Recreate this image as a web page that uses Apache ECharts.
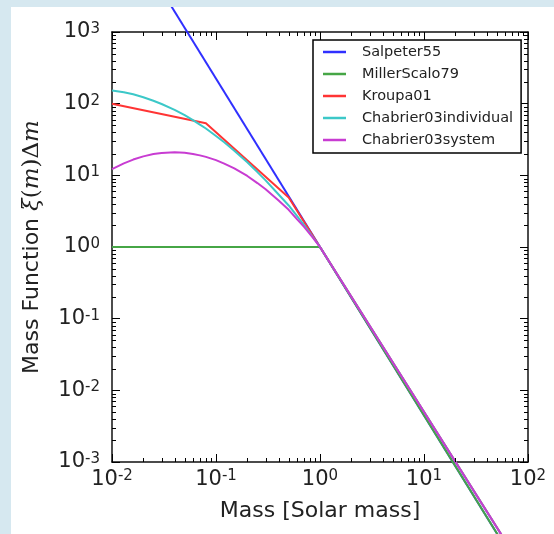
<!DOCTYPE html>
<html>
<head>
<meta charset="utf-8">
<script src="https://cdn.jsdelivr.net/npm/echarts@6/dist/echarts.min.js"></script>
<style>
  html, body { margin: 0; padding: 0; overflow: hidden; width: 100%; height: 100%; background: #d6e8f0; }
  /* white figure panel inside the light blue frame, running off the right/bottom edges */
  #chart { position: absolute; left: 11px; top: 7px; width: 553px; height: 537px; background: #fff; }
</style>
</head>
<body>
<div id="chart"></div>
<script>
// stellar mass (solar masses) and mass function values
const salpeterMass = [0.01, 100];
const salpeterVal = [50100, 0.00002];

const millerScaloMass = [0.01, 1, 100];
const millerScaloVal = [1, 1, 0.00002];

const kroupaMass = [0.01, 0.08, 0.5, 1, 100];
const kroupaVal = [99.5, 53.3, 4.92, 1, 0.000025];

const chabrierMass = [0.01, 0.013, 0.016, 0.02, 0.025, 0.03, 0.04, 0.05, 0.06, 0.07, 0.08, 0.1, 0.12,
  0.15, 0.2, 0.25, 0.3, 0.4, 0.5, 0.6, 0.7, 0.85, 1, 100];
const chabrierIndVal = [153, 144, 135, 123, 110, 99, 82, 69, 59, 51, 45, 35.4, 28.9,
  22.1, 15.2, 11.1, 8.5, 5.4, 3.8, 2.72, 2.03, 1.39, 1, 0.000025];
const chabrierSysVal = [12.2, 14.7, 16.6, 18.4, 19.8, 20.5, 21.0, 20.6, 19.9, 19.0, 18.1, 16.3, 14.6,
  12.5, 9.8, 7.8, 6.4, 4.45, 3.3, 2.45, 1.92, 1.36, 1, 0.000025];

const seriesNames = ['Salpeter55', 'MillerScalo79', 'Kroupa01', 'Chabrier03individual', 'Chabrier03system'];
const seriesColors = ['#3030ff', '#46a646', '#ff3434', '#3cc8c8', '#c83cd2'];

// minor tick positions (2..9 of each decade)
const minorX = [], minorY = [];
for (let d = -2; d < 2; d++) for (let k = 2; k <= 9; k++) minorX.push([k * Math.pow(10, d), 1]);
for (let d = -3; d < 3; d++) for (let k = 2; k <= 9; k++) minorY.push([1, k * Math.pow(10, d)]);

function pairs(xs, ys) {
  return xs.map((x, i) => [x, ys[i]]);
}

const chart = echarts.init(document.getElementById('chart'));
const FONT = 'DejaVu Sans';

function powLabel(v) {
  const e = Math.round(Math.log10(v));
  return '{b|10}{s|' + e + '}';
}
const labelRich = {
  b: { fontSize: 21, lineHeight: 21, fontFamily: FONT, color: '#222', verticalAlign: 'middle' },
  s: { fontSize: 15, lineHeight: 8, fontFamily: FONT, color: '#222', verticalAlign: 'top' }
};

function lineSeries(idx, data) {
  return {
    name: seriesNames[idx], type: 'line', data: data, color: seriesColors[idx],
    showSymbol: false, symbol: 'none', clip: false,
    lineStyle: { width: 2, color: seriesColors[idx] }, animation: false
  };
}

// matplotlib style minor ticks on all four sides
function minorTicks(horizontal) {
  return function (params, api) {
    const cs = params.coordSys;
    const p = api.coord([api.value(0), api.value(1)]);
    const st = { stroke: '#000', lineWidth: 1 };
    if (horizontal) {
      const x = Math.round(p[0]) + 0.5;
      return { type: 'group', children: [
        { type: 'line', shape: { x1: x, y1: cs.y + cs.height, x2: x, y2: cs.y + cs.height - 4 }, style: st },
        { type: 'line', shape: { x1: x, y1: cs.y, x2: x, y2: cs.y + 4 }, style: st }
      ]};
    }
    const y = Math.round(p[1]) + 0.5;
    return { type: 'group', children: [
      { type: 'line', shape: { x1: cs.x, y1: y, x2: cs.x + 4, y2: y }, style: st },
      { type: 'line', shape: { x1: cs.x + cs.width, y1: y, x2: cs.x + cs.width - 4, y2: y }, style: st }
    ]};
  };
}

const axisLine = { show: true, lineStyle: { color: '#111', width: 1.5 } };
const majorTick = { show: true, inside: true, length: 8, lineStyle: { color: '#000', width: 1 } };

chart.setOption({
  backgroundColor: '#fff',
  animation: false,
  textStyle: { fontFamily: FONT },
  grid: { left: 101, right: 36, top: 25, bottom: 82 },
  legend: {
    data: seriesNames, orient: 'vertical', left: 302, top: 33,
    padding: [4, 8, 5, 10], itemGap: 6, itemWidth: 23, itemHeight: 2.5, icon: 'rect',
    borderColor: '#000', borderWidth: 1.5, backgroundColor: '#fff', z: 50,
    textStyle: { fontSize: 14.5, lineHeight: 16, color: '#222', fontFamily: FONT, padding: [0, 0, 0, 11] }
  },
  xAxis: [
    {
      type: 'log', logBase: 10, min: 0.01, max: 100, splitNumber: 4, position: 'bottom',
      name: 'Mass [Solar mass]', nameLocation: 'middle', nameGap: 38,
      nameTextStyle: { fontSize: 22, color: '#222', fontFamily: FONT },
      axisLine: axisLine, axisTick: majorTick, splitLine: { show: false },
      axisLabel: { formatter: powLabel, rich: labelRich, margin: 7 }
    },
    {
      type: 'log', logBase: 10, min: 0.01, max: 100, splitNumber: 4, position: 'top',
      axisLine: axisLine, axisTick: majorTick, splitLine: { show: false }, axisLabel: { show: false }
    }
  ],
  yAxis: [
    {
      type: 'log', logBase: 10, min: 0.001, max: 1000, splitNumber: 6, position: 'left',
      name: 'Mass Function {m|ξ}{p|(}{m|m}{p|)}{p|Δ}{m|m}',
      nameLocation: 'middle', nameGap: 68, nameRotate: 90,
      nameTextStyle: {
        fontSize: 22, color: '#222', fontFamily: FONT,
        rich: {
          m: { fontSize: 23, fontStyle: 'italic', fontFamily: 'DejaVu Serif', color: '#222' },
          p: { fontSize: 23, fontFamily: 'DejaVu Serif', color: '#222' }
        }
      },
      axisLine: axisLine, axisTick: majorTick, splitLine: { show: false },
      axisLabel: { formatter: powLabel, rich: labelRich, margin: 12 }
    },
    {
      type: 'log', logBase: 10, min: 0.001, max: 1000, splitNumber: 6, position: 'right',
      axisLine: axisLine, axisTick: majorTick, splitLine: { show: false }, axisLabel: { show: false }
    }
  ],
  series: [
    lineSeries(0, pairs(salpeterMass, salpeterVal)),
    lineSeries(1, pairs(millerScaloMass, millerScaloVal)),
    lineSeries(2, pairs(kroupaMass, kroupaVal)),
    lineSeries(3, pairs(chabrierMass, chabrierIndVal)),
    lineSeries(4, pairs(chabrierMass, chabrierSysVal)),
    { type: 'custom', silent: true, z: 5, data: minorX, renderItem: minorTicks(true), animation: false },
    { type: 'custom', silent: true, z: 5, data: minorY, renderItem: minorTicks(false), animation: false }
  ]
});
</script>
</body>
</html>
